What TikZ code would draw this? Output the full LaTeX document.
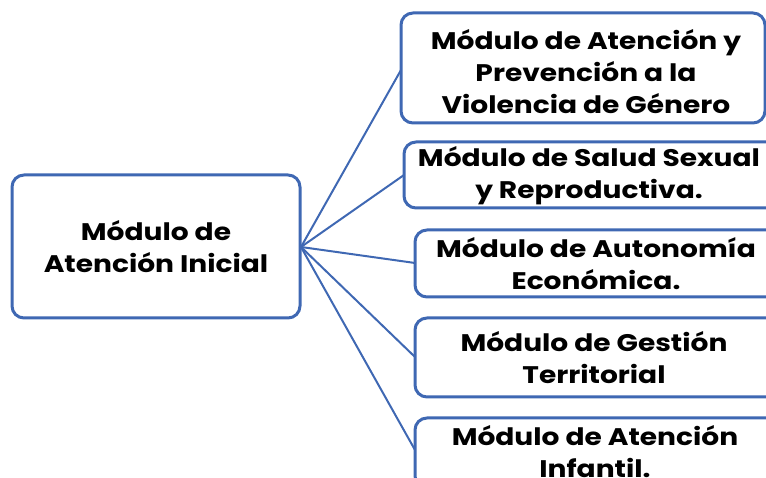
\documentclass[tikz,border=0pt]{standalone}
\usepackage{fontspec}
\setmainfont{Poppins}[BoldFont={Poppins Bold}, FakeStretch=1.17]
\definecolor{boxblue}{HTML}{3F68B3}
\tikzset{
  modbox/.style={draw=boxblue, line width=3pt, rounded corners=12pt, fill=white},
  modtext/.style={font=\bfseries\fontsize{24}{32}\selectfont, align=center, inner sep=0pt},
  link/.style={draw=boxblue, line width=2pt}
}
\begin{document}
\begin{tikzpicture}[x=1pt,y=1pt]
\useasboundingbox (0,0) rectangle (766,478);
\begin{scope}
\clip (0,0) rectangle (766,478);
% hub
\coordinate (hub) at (301,231);
% left box
\draw[modbox] (12,160) rectangle (300,303);
\node[modtext] (left) at (156,231.5) {Módulo de\\Atención Inicial};
% right boxes
\draw[modbox] (401,355) rectangle (765,465);
\node[modtext] (t1) at (586,406) {Módulo de Atención y\\Prevención a la\\Violencia de Género};
\draw[modbox] (404,270) rectangle (790,336);
\node[modtext] (t2) at (589,302) {Módulo de Salud Sexual\\y Reproductiva.};
\draw[modbox] (415,181) rectangle (790,248);
\node[modtext] (t3) at (596,214) {Módulo de Autonomía\\Económica.};
\draw[modbox] (415,81) rectangle (790,160);
\node[modtext] (t4) at (594,120) {Módulo de Gestión\\Territorial};
\draw[modbox] (415,-10) rectangle (790,60);
\node[modtext] (t5) at (595,26) {Módulo de Atención\\Infantil.};
% connector endpoints
\coordinate (e1) at (401,408);
\coordinate (e2) at (404,303);
\coordinate (e3) at (415,215);
\coordinate (e4) at (415,121);
\coordinate (e5) at (415,28);
\foreach \e in {e1,e2,e3,e4,e5} \draw[link] (hub) -- (\e);
\end{scope}
\end{tikzpicture}
\end{document}
